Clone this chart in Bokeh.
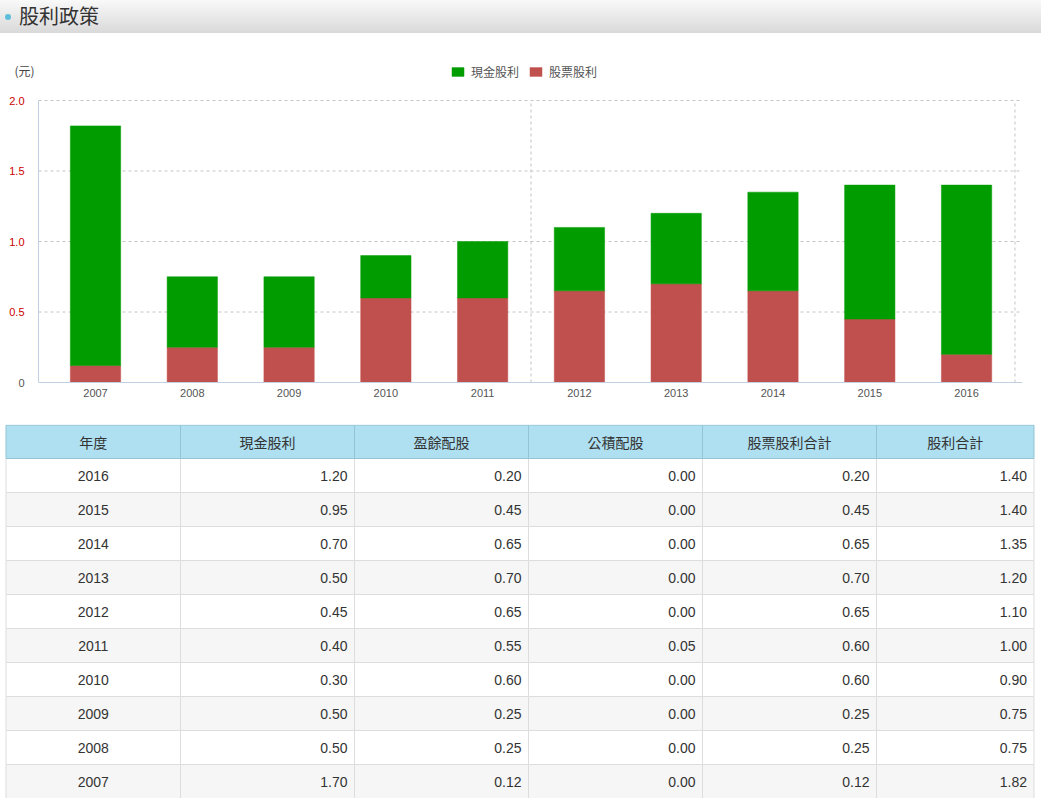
from bokeh.plotting import figure
from bokeh.models import (ColumnDataSource, FixedTicker, PrintfTickFormatter, Legend,
                          LegendItem, Label, Div, Range1d, LinearAxis)
from bokeh.layouts import column
from bokeh.embed import file_html
from bokeh.resources import INLINE
from bokeh.core.properties import value

# ---------------- data ----------------
years = [2007, 2008, 2009, 2010, 2011, 2012, 2013, 2014, 2015, 2016]
cash_dividend = [1.70, 0.50, 0.50, 0.30, 0.40, 0.45, 0.50, 0.70, 0.95, 1.20]
earnings_stock = [0.12, 0.25, 0.25, 0.60, 0.55, 0.65, 0.70, 0.65, 0.45, 0.20]
capital_stock = [0.00, 0.00, 0.00, 0.00, 0.05, 0.00, 0.00, 0.00, 0.00, 0.00]
stock_total = [0.12, 0.25, 0.25, 0.60, 0.60, 0.65, 0.70, 0.65, 0.45, 0.20]
dividend_total = [1.82, 0.75, 0.75, 0.90, 1.00, 1.10, 1.20, 1.35, 1.40, 1.40]

series_names = ["現金股利", "股票股利"]
table_headers = ["年度", "現金股利", "盈餘配股", "公積配股", "股票股利合計", "股利合計"]
y_ticks = [0.5, 1.0, 1.5, 2.0]
y_zero = [0]
title_text = "股利政策"
unit_text = "(元)"

CJK = "Noto Sans CJK TC"
LAT = "Liberation Sans"
GREEN = "#009c00"
RED = "#c0504d"
GRID = "#c4c4c4"
AXIS = "#c0d0e0"
PAGE_W = 1041

# ---------------- header ----------------
header_html = (
    f'<div style="display:flex;align-items:center;height:33px;font-family:\'{CJK}\';">'
    '<span style="display:inline-block;width:6px;height:6px;border-radius:50%;'
    'background:#5bbfdc;margin:0 8px 0 5px;"></span>'
    f'<span style="font-size:20px;color:#333;">{title_text}</span></div>'
)
header = Div(text=header_html, width=PAGE_W, height=33, margin=0,
             styles={"background": "linear-gradient(#f9f9f9, #d9d9d9)"})

# ---------------- chart ----------------
n = len(years)
xs = list(range(n))
src = ColumnDataSource(dict(x=xs, stock=stock_total, cash=cash_dividend))

# plotting area (axis to axis); the frame spans the whole figure so nothing is clipped
X0, X1 = -0.589, 9.578
UPX = (X1 - X0) / 984.0          # category units per pixel
Y_TOP = 2.0
UPY = Y_TOP / 282.0              # value units per pixel

p = figure(width=PAGE_W, height=387, output_backend="svg", toolbar_location=None,
           x_range=Range1d(X0 - 38 * UPX, X1 + 19 * UPX),
           y_range=Range1d(-38 * UPY, Y_TOP + 67 * UPY),
           x_axis_location=None, y_axis_location=None,
           min_border=0, margin=0)
p.outline_line_color = None
p.background_fill_color = "white"
p.border_fill_color = "white"
p.grid.visible = False

# dashed grid lines, limited to the plotting area
p.segment(x0=[X0] * len(y_ticks), x1=[X1] * len(y_ticks), y0=y_ticks, y1=y_ticks,
          line_color=GRID, line_dash="3 3", line_width=1)
v_lines = [4.5, 9.5]
p.segment(x0=v_lines, x1=v_lines, y0=[0] * len(v_lines), y1=[Y_TOP] * len(v_lines),
          line_color=GRID, line_dash="3 3", line_width=1)

r_stock, r_cash = p.vbar_stack(["stock", "cash"], x="x", width=0.52, source=src,
                               fill_color=[RED, GREEN], line_color=[RED, GREEN], line_width=0.5)

xax = LinearAxis(fixed_location=0, ticker=FixedTicker(ticks=xs), bounds=(X0, X1),
                 major_label_overrides={i: str(y) for i, y in zip(xs, years)},
                 axis_line_color=AXIS, major_tick_line_color=None, minor_tick_line_color=None,
                 major_label_text_color="#555555", major_label_text_font=LAT,
                 major_label_text_font_size="11px", major_label_standoff=0)
p.add_layout(xax, "below")

yax = LinearAxis(fixed_location=X0, ticker=FixedTicker(ticks=y_ticks),
                 formatter=PrintfTickFormatter(format="%.1f"), bounds=(0, Y_TOP),
                 axis_line_color=AXIS, major_tick_line_color=None, minor_tick_line_color=None,
                 major_label_text_color="#cc0000", major_label_text_font=LAT,
                 major_label_text_font_size="11px", major_label_standoff=8)
p.add_layout(yax, "left")
yax0 = LinearAxis(fixed_location=X0, ticker=FixedTicker(ticks=y_zero), bounds=(0, Y_TOP),
                  axis_line_color=None, major_tick_line_color=None, minor_tick_line_color=None,
                  major_label_text_color="#555555", major_label_text_font=LAT,
                  major_label_text_font_size="11px", major_label_standoff=8)
p.add_layout(yax0, "left")

unit_label = Label(x=14, y=350, x_units="screen", y_units="screen", text=unit_text,
                   text_align="left", text_baseline="middle",
                   text_font=CJK, text_font_size="12px", text_color="#444444")
p.add_layout(unit_label)

legend = Legend(items=[LegendItem(label=series_names[0], renderers=[r_cash]),
                       LegendItem(label=series_names[1], renderers=[r_stock])],
                orientation="horizontal", location=(450, 340), margin=0, padding=0,
                spacing=9, glyph_width=15, glyph_height=11, label_standoff=6, label_height=15,
                label_text_font=CJK, label_text_font_size="12px", label_text_color="#555555",
                border_line_color=None, background_fill_alpha=0)
p.add_layout(legend)

# ---------------- table ----------------
edges = [5.5, 180, 354, 528, 702, 876, 1033.5]
n_rows = n + 1
t = figure(width=PAGE_W, height=378, output_backend="svg", toolbar_location=None,
           x_range=Range1d(0, PAGE_W), y_range=Range1d(n_rows, 0),
           x_axis_location=None, y_axis_location=None, min_border=0, min_border_top=4, margin=0)
t.grid.visible = False
t.outline_line_color = None

rows_desc = list(range(n))[::-1]
table_cols = [years, cash_dividend, earnings_stock, capital_stock, stock_total, dividend_total]

bl, br, bt, bb, bf = [], [], [], [], []
for r, idx in enumerate(rows_desc, start=1):
    for c in range(len(table_headers)):
        bl.append(edges[c]); br.append(edges[c + 1])
        bt.append(r); bb.append(r + 1)
        bf.append("#ffffff" if r % 2 == 1 else "#f6f6f6")
t.quad(left=bl, right=br, top=bt, bottom=bb, fill_color=bf, line_color="#dddddd", line_width=1)

hl = edges[:-1]
hr = edges[1:]
t.quad(left=hl, right=hr, top=[0.02] * len(hl), bottom=[1] * len(hl),
       fill_color="#aee0f1", line_color="#93c3d4", line_width=1)

hx = [(a + b) / 2 for a, b in zip(hl, hr)]
t.text(x=hx, y=[0.5] * len(hx), text=table_headers, text_align="center", text_baseline="middle",
       text_font=value(CJK), text_font_size="14px", text_color="#333333")

yx, yy, yt = [], [], []
nx, ny, nt = [], [], []
for r, idx in enumerate(rows_desc, start=1):
    yx.append(hx[0]); yy.append(r + 0.5); yt.append(str(years[idx]))
    for c in range(1, len(table_headers)):
        nx.append(edges[c + 1] - 7); ny.append(r + 0.5); nt.append(f"{table_cols[c][idx]:.2f}")
t.text(x=yx, y=yy, text=yt, text_align="center", text_baseline="middle",
       text_font=value(LAT), text_font_size="14px", text_color="#333333")
t.text(x=nx, y=ny, text=nt, text_align="right", text_baseline="middle",
       text_font=value(LAT), text_font_size="14px", text_color="#333333")

page = column(header, p, t, spacing=0)
open("out.html", "w").write(file_html(page, INLINE))
